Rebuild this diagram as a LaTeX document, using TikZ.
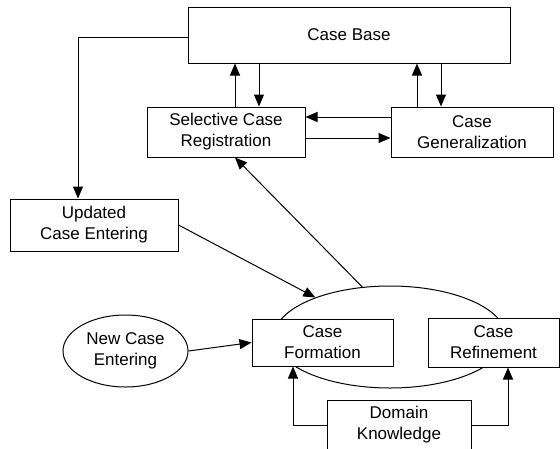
\documentclass[tikz,border=0pt]{standalone}
\usepackage{fontspec}
\setmainfont{Liberation Sans}
\usetikzlibrary{positioning,shapes.geometric,arrows.meta}

\begin{document}
\begin{tikzpicture}[x=1pt,y=-1pt,line width=1pt,
        font=\fontsize{17}{21}\selectfont,
        box/.style={draw,fill=white,align=center,inner sep=0pt},
        oval/.style={draw,ellipse,align=center,inner sep=0pt},
        link/.style={-{Triangle[length=12pt,width=10pt]}}]
        \useasboundingbox (0,0) rectangle (560,448);
        % formation ellipse goes under the boxes
        \node[oval,minimum width=232pt,minimum height=102pt] (form) at (390,337) {};
        % boxes
        \node[box,minimum width=322pt,minimum height=56pt] (cb) at (349,35) {Case Base};
        \node[box,minimum width=158pt,minimum height=50pt] (scr) at (226,132) {Selective Case\\Registration};
        \node[box,minimum width=162pt,minimum height=50pt] (cg) at (472,132) {Case\\Generalization};
        \node[box,minimum width=168pt,minimum height=52pt] (upd) at (94,225) {Updated\\Case Entering};
        \node[oval,minimum width=125pt,minimum height=72pt] (nce) at (125.5,351) {New Case\\Entering};
        \node[box,minimum width=141pt,minimum height=47pt] (cf) at (322.5,342.5) {Case\\Formation};
        \node[box,minimum width=131pt,minimum height=49pt] (cr) at (493.5,342.5) {Case\\Refinement};
        \node[box,minimum width=144pt,minimum height=50pt] (dk) at (399,425) {Domain\\Knowledge};
        % case base <-> registration / generalization
        \draw[link] ([xshift=9pt]scr.north) -- ([xshift=9pt]scr.north |- cb.south);
        \draw[link] ([xshift=33pt]scr.north |- cb.south) -- ([xshift=33pt]scr.north);
        \draw[link] ([xshift=-55pt]cg.north) -- ([xshift=-55pt]cg.north |- cb.south);
        \draw[link] ([xshift=-31pt]cg.north |- cb.south) -- ([xshift=-31pt]cg.north);
        \draw[link] ([yshift=15pt]cg.west) -- ([yshift=15pt]scr.east);
        \draw[link] ([yshift=-6pt]scr.east) -- ([yshift=-6pt]cg.west);
        % updated cases
        \draw[link] ([yshift=-2pt]cb.west) -| ([xshift=-16pt]upd.north);
        \draw[link] (upd.east) -- (form);
        \draw[link] (form.119) -- ([xshift=9pt]scr.south);
        % new case and knowledge
        \draw[link] (nce.east) -- (cf.west);
        \draw[link] (dk.west) -| ([xshift=-29.5pt]cf.south);
        \draw[link] (dk.east) -| ([xshift=14.5pt]cr.south);
\end{tikzpicture}
\end{document}
